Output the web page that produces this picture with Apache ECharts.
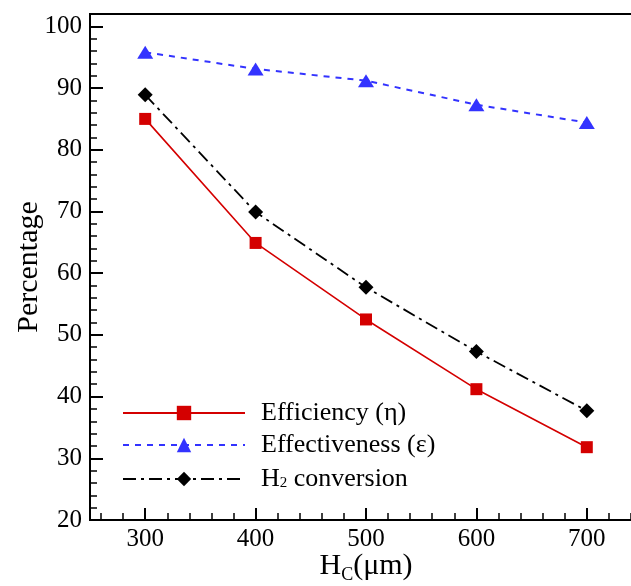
<!DOCTYPE html>
<html>
<head>
<meta charset="utf-8">
<script src="https://cdn.jsdelivr.net/npm/echarts@6/dist/echarts.min.js"></script>
<style>
  html, body { margin: 0; padding: 0; background: #fff; }
  #chart { width: 631px; height: 586px; }
</style>
</head>
<body>
<div id="chart"></div>
<script>
const hcValues = [300, 400, 500, 600, 700]
const efficiency = [85.0, 64.9, 52.5, 41.2, 31.8]
const effectiveness = [95.8, 93.1, 91.2, 87.3, 84.4]
const h2Conversion = [88.9, 69.9, 57.7, 47.3, 37.7]

const xMajorTicks = [300, 400, 500, 600, 700]
const xMinorTicks = [260, 280, 320, 340, 360, 380, 420, 440, 460, 480, 520, 540, 560, 580, 620, 640, 660, 680, 720, 740]
const yMajorTicks = [20, 30, 40, 50, 60, 70, 80, 90, 100]
const yMinorTicks = [22, 24, 26, 28, 32, 34, 36, 38, 42, 44, 46, 48, 52, 54, 56, 58, 62, 64, 66, 68,
  72, 74, 76, 78, 82, 84, 86, 88, 92, 94, 96, 98]

const serif = 'Liberation Serif'

const pairs = ys => hcValues.map((x, i) => [x, ys[i]])

const chart = echarts.init(document.getElementById('chart'))

chart.setOption({
  animation: false,
  backgroundColor: '#fff',
  grid: {
    left: 90,
    top: 14,
    width: 552,
    height: 506,
    show: true,
    borderColor: '#000',
    borderWidth: 2,
    containLabel: false,
    outerBoundsMode: 'none',
  },
  legend: {
    left: 117,
    top: 395,
    orient: 'vertical',
    itemWidth: 122,
    itemHeight: 18,
    itemGap: 6,
    textStyle: {
      fontFamily: serif,
      fontSize: 26,
      color: '#000',
      lineHeight: 24,
      padding: [0, 0, 0, 11],
      rich: {
        sub: { fontFamily: serif, fontSize: 15, verticalAlign: 'bottom', padding: [12, 0, 0, 0], lineHeight: 24 },
      },
    },
    formatter: name => (name === 'H2 conversion' ? 'H{sub|2} conversion' : name),
    data: ['Efficiency (η)', 'Effectiveness (ε)', 'H2 conversion'],
  },
  xAxis: [
    {
      type: 'value',
      min: 250,
      max: 750,
      name: 'H{sub|C}(μm)',
      nameLocation: 'middle',
      nameMoveOverlap: false,
      nameGap: 29,
      nameTextStyle: {
        fontFamily: serif,
        fontSize: 30,
        color: '#000',
        rich: {
          sub: { fontFamily: serif, fontSize: 18, padding: [17, 0, 0, 0] },
        },
      },
      axisLine: { show: true, lineStyle: { color: '#000', width: 2 } },
      axisTick: { show: true, inside: true, length: 12, lineStyle: { color: '#000', width: 2 }, customValues: xMajorTicks },
      axisLabel: { fontFamily: serif, fontSize: 25, color: '#000', margin: 7, customValues: xMajorTicks },
      splitLine: { show: false },
    },
    {
      type: 'value',
      min: 250,
      max: 750,
      position: 'bottom',
      axisLine: { show: false },
      axisTick: { show: true, inside: true, length: 7, lineStyle: { color: '#000', width: 1.5 }, customValues: xMinorTicks },
      axisLabel: { show: false },
      splitLine: { show: false },
    },
  ],
  yAxis: [
    {
      type: 'value',
      min: 20,
      max: 102,
      name: 'Percentage',
      nameLocation: 'middle',
      nameMoveOverlap: false,
      nameGap: 46,
      nameTextStyle: { fontFamily: serif, fontSize: 30, color: '#000' },
      axisLine: { show: true, lineStyle: { color: '#000', width: 2 } },
      axisTick: { show: true, inside: true, length: 13, lineStyle: { color: '#000', width: 2 }, customValues: yMajorTicks },
      axisLabel: { fontFamily: serif, fontSize: 25, color: '#000', margin: 8, customValues: yMajorTicks },
      splitLine: { show: false },
    },
    {
      type: 'value',
      min: 20,
      max: 102,
      position: 'left',
      axisLine: { show: false },
      axisTick: { show: true, inside: true, length: 7, lineStyle: { color: '#000', width: 1.5 }, customValues: yMinorTicks },
      axisLabel: { show: false },
      splitLine: { show: false },
    },
  ],
  series: [
    {
      name: 'Efficiency (η)',
      type: 'line',
      data: pairs(efficiency),
      symbol: 'rect',
      symbolSize: 12,
      itemStyle: { color: '#d40000' },
      lineStyle: { color: '#d40000', width: 1.6, type: 'solid' },
      z: 3,
    },
    {
      name: 'Effectiveness (ε)',
      type: 'line',
      data: pairs(effectiveness),
      symbol: 'triangle',
      symbolSize: [16, 13],
      itemStyle: { color: '#3333ff' },
      lineStyle: { color: '#3333ff', width: 2, type: [6, 6] },
      z: 3,
    },
    {
      name: 'H2 conversion',
      type: 'line',
      data: pairs(h2Conversion),
      symbol: 'diamond',
      symbolSize: 15,
      itemStyle: { color: '#000' },
      lineStyle: { color: '#000', width: 1.8, type: [13, 5, 3, 5] },
      z: 3,
    },
  ],
})
</script>
</body>
</html>
